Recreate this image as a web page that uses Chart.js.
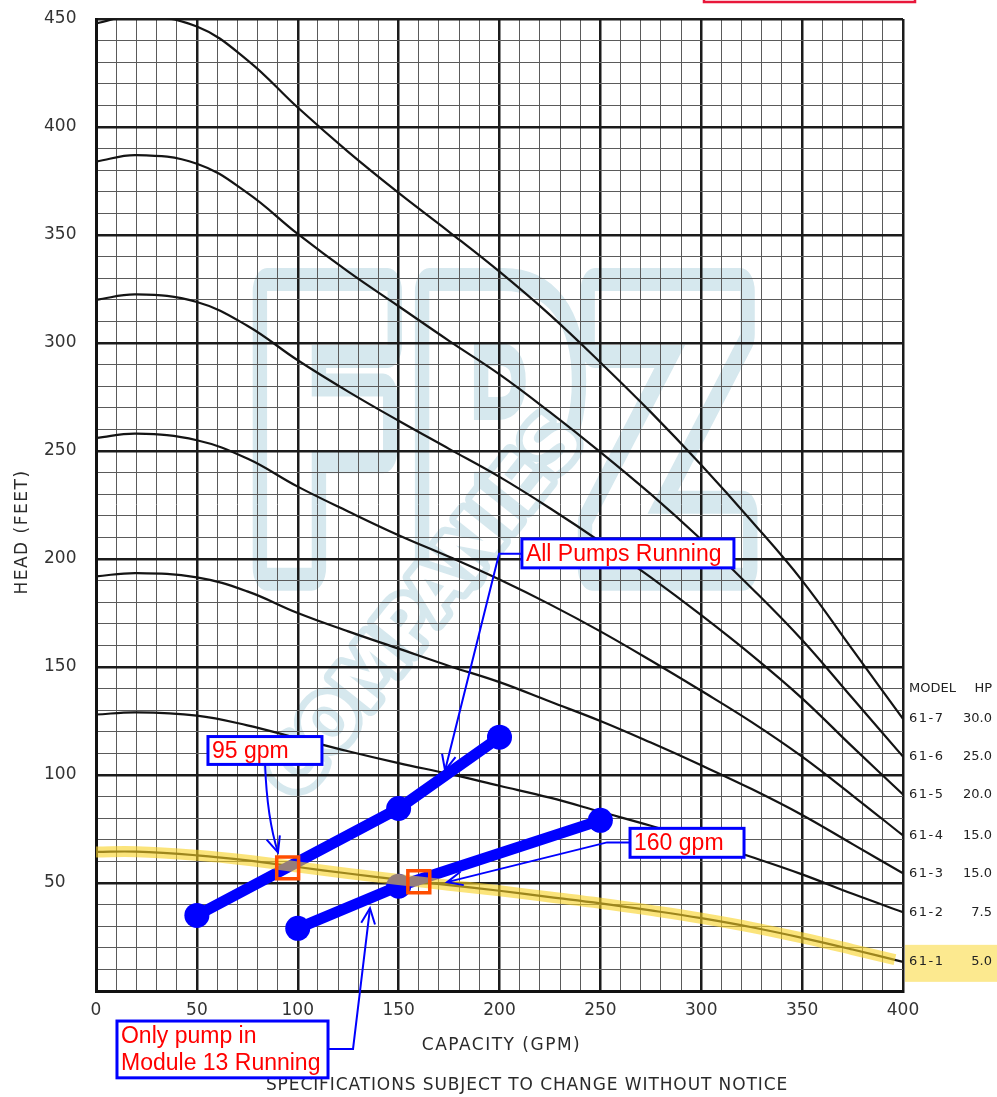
<!DOCTYPE html>
<html>
<head>
<meta charset="utf-8">
<script src="https://cdn.jsdelivr.net/npm/chart.js@4.4.1/dist/chart.umd.min.js"></script>
<style>
  html, body { margin: 0; padding: 0; background: #fff; }
  #marco { width: 997px; height: 1097px; position: relative; }
</style>
</head>
<body>
<div id="marco"><canvas id="curvas" width="997" height="1097"></canvas></div>
<script>
// caudal (GPM) donde se leyeron las curvas
const caudales = [0, 20, 50, 75, 100, 125, 150, 175, 200, 225, 250, 275, 300, 325, 350, 375, 400];

// altura (pies) de cada modelo
const altura617 = [448, 451.5, 446.5, 431, 409, 388.5, 369.5, 351.5, 333, 313, 291, 268, 243.5, 217.5, 190, 158, 126];
const altura616 = [384, 387, 383, 369.5, 350.5, 333, 317, 301, 285.5, 268, 249.5, 230, 209, 186.5, 162.5, 135.5, 108.5];
const altura615 = [320, 322.5, 319, 308, 292, 277.5, 264, 251, 238, 223.5, 208, 191.5, 174, 155.5, 135.5, 113, 91];
const altura614 = [256, 258, 255, 246.5, 233.5, 222, 211, 201, 190.5, 179, 166.5, 153, 139, 124.5, 108.5, 90.5, 72];
const altura613 = [192, 193.5, 191.5, 185, 175, 166.5, 158.5, 150.5, 143, 134, 125, 115, 104.5, 93.5, 81.5, 68, 54.5];
const altura612 = [128, 129, 127.5, 123, 117, 111, 105.5, 100.5, 95, 89.5, 83, 76.5, 69.5, 62, 54, 45, 36.5];
const altura611 = [64.4, 64.5, 62.8, 60.5, 57.4, 54.4, 51.6, 49, 46.4, 43.5, 40.6, 37.3, 33.7, 29.5, 24.6, 19.2, 13.5];

const modelos = ['61-7', '61-6', '61-5', '61-4', '61-3', '61-2', '61-1'];
const potencias = ['30.0', '25.0', '20.0', '15.0', '15.0', '7.5', '5.0'];
const alturas = [altura617, altura616, altura615, altura614, altura613, altura612, altura611];

// curvas del sistema (azules)
const todosGpm = [50, 150, 200];
const todosPies = [35, 84.5, 117.5];
const soloGpm = [100, 150, 250];
const soloPies = [29, 48.5, 79];

// puntos de operación (cuadrados naranjas)
const cruceGpm = [95, 160];
const crucePies = [57, 50.6];

const ticksX = [0, 50, 100, 150, 200, 250, 300, 350, 400];
const ticksY = [50, 100, 150, 200, 250, 300, 350, 400, 450];

// llamadas: caja [x1, y1, x2, y2] y guía en unidades del gráfico
const llamadas = [
  { lineas: ['95 gpm'], caja: [55.5, 117.8, 112, 104.9], guia: [[83.8, 104.9], [84.8, 80], [90.2, 64.2]], curva: true },
  { lineas: ['All Pumps Running'], caja: [211.1, 209.3, 316.2, 195.9], guia: [[211.1, 202.4], [199.8, 202.4], [173, 102.1]] },
  { lineas: ['160 gpm'], caja: [264.7, 75.3, 321.2, 61.9], guia: [[264.7, 68.8], [253.3, 68.8], [174, 50.4]] },
  { lineas: ['Only pump in', 'Module 13 Running'], caja: [10.4, -13.9, 115, -40.2], guia: [[115, -26.8], [127.4, -26.8], [135.8, 38.3]] }
];

const pares = (xs, ys) => xs.map((x, i) => ({ x: x, y: ys[i] }));

const datasets = [];
alturas.forEach((a, i) => {
  datasets.push({
    label: modelos[i],
    data: pares(caudales, a),
    borderColor: '#141414',
    borderWidth: 2.2,
    pointRadius: 0,
    tension: 0.4,
    order: 3
  });
});
// banda amarilla semitransparente sobre el 61-1
datasets.push({
  label: 'resaltado 61-1',
  data: pares(caudales.slice(0, -1).concat([396]), altura611.slice(0, -1).concat([14.5])),
  borderColor: 'rgba(248, 210, 35, 0.6)',
  borderWidth: 11,
  pointRadius: 0,
  tension: 0.4,
  order: 1
});
[[todosGpm, todosPies, 'All Pumps Running'], [soloGpm, soloPies, 'Only pump in Module 13 Running']].forEach(s => {
  datasets.push({
    label: s[2],
    data: pares(s[0], s[1]),
    borderColor: '#0000ff',
    backgroundColor: '#0000ff',
    borderWidth: 11,
    pointRadius: 12.5,
    pointBorderWidth: 0,
    tension: 0,
    order: 2
  });
});
datasets.push({
  type: 'scatter',
  label: 'operación',
  data: pares(cruceGpm, crucePies),
  pointStyle: 'rect',
  pointRadius: 15.5,
  borderColor: '#ff4d00',
  backgroundColor: 'rgba(0,0,0,0)',
  pointBorderWidth: 3.5,
  order: 0
});

const mayor = v => v % 50 === 0;

// logo de fondo (marca de agua)
const marcaAgua = {
  id: 'marcaAgua',
  beforeDraw(chart) {
    const { ctx } = chart;
    const sx = chart.scales.x, sy = chart.scales.y;
    ctx.save();
    ctx.font = 'bold 330px "DejaVu Sans"';
    ctx.textBaseline = 'alphabetic';
    const w = ctx.measureText('FPZ').width;
    const x0 = sx.getPixelForValue(74), x1 = sx.getPixelForValue(326);
    ctx.translate(x0, sy.getPixelForValue(196));
    ctx.scale((x1 - x0) / w, 1.15);
    ctx.lineJoin = 'round';
    ctx.strokeStyle = '#d6e8ee';
    ctx.lineWidth = 40;
    ctx.strokeText('FPZ', 0, 0);
    ctx.fillStyle = '#ffffff';
    ctx.fillText('FPZ', 0, 0);
    ctx.restore();

    ctx.save();
    ctx.translate(sx.getPixelForValue(100), sy.getPixelForValue(88));
    ctx.rotate(-0.9);
    ctx.font = 'bold 70px "DejaVu Sans"';
    ctx.strokeStyle = '#d6e8ee';
    ctx.lineWidth = 14;
    ctx.lineJoin = 'round';
    ctx.strokeText('COMPANIES', 0, 0);
    ctx.fillStyle = '#ffffff';
    ctx.fillText('COMPANIES', 0, 0);
    ctx.restore();
  }
};

function flecha(ctx, x0, y0, x1, y1) {
  const ang = Math.atan2(y1 - y0, x1 - x0);
  const largo = 17, abre = 0.42;
  ctx.beginPath();
  ctx.moveTo(x1 - largo * Math.cos(ang - abre), y1 - largo * Math.sin(ang - abre));
  ctx.lineTo(x1, y1);
  ctx.lineTo(x1 - largo * Math.cos(ang + abre), y1 - largo * Math.sin(ang + abre));
  ctx.stroke();
}

const textosExtra = {
  id: 'textosExtra',
  afterDraw(chart) {
    const { ctx, chartArea } = chart;
    const sx = chart.scales.x, sy = chart.scales.y;
    ctx.save();

    // recuadro rojo cortado arriba
    ctx.strokeStyle = '#e8173a';
    ctx.lineWidth = 2.5;
    ctx.strokeRect(704, -10, 211, 12);

    // títulos de ejes y pie
    ctx.fillStyle = '#2a2a2a';
    ctx.font = '17px "DejaVu Sans"';
    ctx.textAlign = 'center';
    ctx.textBaseline = 'middle';
    ctx.letterSpacing = '1.5px';
    ctx.fillText('CAPACITY (GPM)', (chartArea.left + chartArea.right) / 2 + 2, 1046);
    ctx.letterSpacing = '0.9px';
    ctx.fillText('SPECIFICATIONS SUBJECT TO CHANGE WITHOUT NOTICE', 527, 1086);
    ctx.save();
    ctx.translate(23, 532);
    ctx.rotate(-Math.PI / 2);
    ctx.letterSpacing = '1.5px';
    ctx.fillText('HEAD (FEET)', 0, 0);
    ctx.restore();

    // tabla de modelos a la derecha
    ctx.font = '13px "DejaVu Sans"';
    ctx.textBaseline = 'middle';
    const yFin = alturas.map(a => sy.getPixelForValue(a[a.length - 1]));
    const y611 = yFin[6];
    ctx.fillStyle = '#fce98f';
    ctx.fillRect(chartArea.right + 2, y611 - 17, 997 - chartArea.right - 2, 37);
    ctx.fillStyle = '#222';
    ctx.letterSpacing = '0px';
    ctx.textAlign = 'left';
    ctx.fillText('MODEL', 909, yFin[0] - 30);
    ctx.textAlign = 'right';
    ctx.fillText('HP', 992, yFin[0] - 30);
    modelos.forEach((m, i) => {
      ctx.textAlign = 'left';
      ctx.letterSpacing = '1.5px';
      ctx.fillText(m, 909, yFin[i]);
      ctx.letterSpacing = '0px';
      ctx.textAlign = 'right';
      ctx.fillText(potencias[i], 992, yFin[i]);
    });

    // llamadas con flechas
    llamadas.forEach(l => {
      const bx1 = sx.getPixelForValue(l.caja[0]), by1 = sy.getPixelForValue(l.caja[1]);
      const bx2 = sx.getPixelForValue(l.caja[2]), by2 = sy.getPixelForValue(l.caja[3]);
      const pts = l.guia.map(p => [sx.getPixelForValue(p[0]), sy.getPixelForValue(p[1])]);
      ctx.strokeStyle = '#0000ff';
      ctx.lineWidth = 2;
      ctx.lineJoin = 'miter';
      ctx.beginPath();
      ctx.moveTo(pts[0][0], pts[0][1]);
      if (l.curva) {
        ctx.quadraticCurveTo(pts[1][0], pts[1][1], pts[2][0], pts[2][1]);
      } else {
        for (let k = 1; k < pts.length; k++) ctx.lineTo(pts[k][0], pts[k][1]);
      }
      ctx.stroke();
      const n = pts.length;
      flecha(ctx, pts[n - 2][0], pts[n - 2][1], pts[n - 1][0], pts[n - 1][1]);

      ctx.fillStyle = '#ffffff';
      ctx.fillRect(bx1, by1, bx2 - bx1, by2 - by1);
      ctx.lineWidth = 3;
      ctx.strokeRect(bx1, by1, bx2 - bx1, by2 - by1);
      ctx.fillStyle = '#ff0000';
      ctx.font = '23px "Liberation Sans", Arial';
      ctx.textAlign = 'left';
      ctx.textBaseline = 'middle';
      const cy = (by1 + by2) / 2, salto = 27;
      l.lineas.forEach((t, k) => {
        ctx.fillText(t, bx1 + 4, cy + (k - (l.lineas.length - 1) / 2) * salto + 1);
      });
    });
    ctx.restore();
  }
};

new Chart(document.getElementById('curvas'), {
  type: 'line',
  data: { datasets: datasets },
  plugins: [marcaAgua, textosExtra],
  options: {
    responsive: false,
    animation: false,
    events: [],
    devicePixelRatio: 1,
    layout: { padding: { left: 44, top: 17, right: 94, bottom: 0 } },
    plugins: { legend: { display: false }, tooltip: { enabled: false } },
    scales: {
      x: {
        type: 'linear',
        min: 0, max: 400,
        afterFit: s => { s.height = 106; },
        border: { display: true, color: '#111', width: 3 },
        grid: {
          drawTicks: false,
          color: c => mayor(c.tick.value) ? '#1b1b1b' : '#5a5a5a',
          lineWidth: c => mayor(c.tick.value) ? 2.5 : 1
        },
        ticks: {
          stepSize: 10, autoSkip: false, maxRotation: 0, padding: 9,
          color: '#333', font: { family: '"DejaVu Sans"', size: 17 },
          callback: v => ticksX.includes(v) ? String(v) : ''
        }
      },
      y: {
        min: 0, max: 450,
        afterFit: s => { s.width = 52; },
        border: { display: true, color: '#111', width: 3 },
        grid: {
          drawTicks: false,
          color: c => mayor(c.tick.value) ? '#1b1b1b' : '#5a5a5a',
          lineWidth: c => mayor(c.tick.value) ? 2.5 : 1
        },
        ticks: {
          stepSize: 10, autoSkip: false, crossAlign: 'far',
          color: '#333', font: { family: '"DejaVu Sans"', size: 17 },
          callback: v => ticksY.includes(v) ? String(v) : ''
        }
      }
    }
  }
});
</script>
</body>
</html>
